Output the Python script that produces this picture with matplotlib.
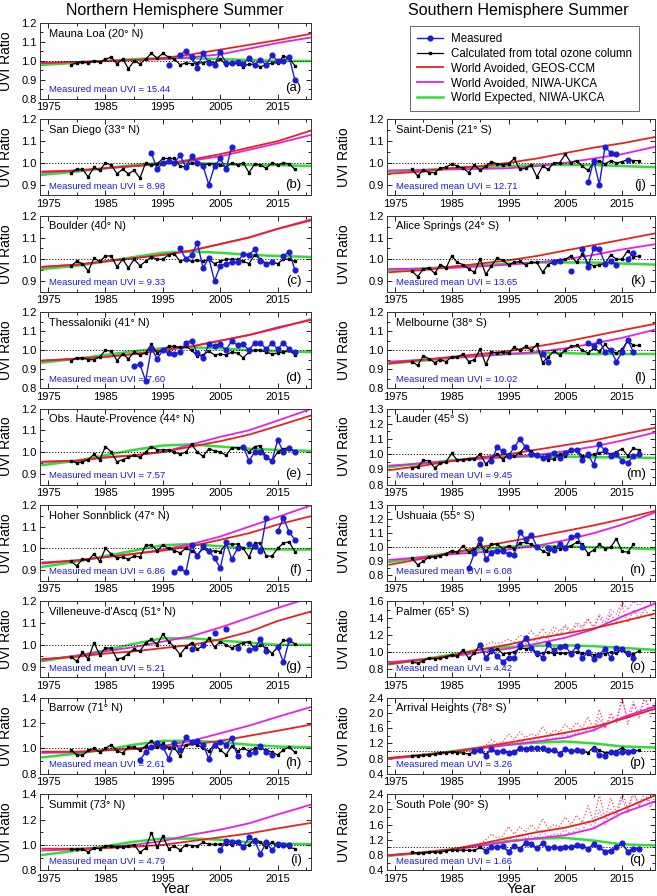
import numpy as np
import matplotlib
matplotlib.use('Agg')
import matplotlib.pyplot as plt
from matplotlib.lines import Line2D
from matplotlib.ticker import MultipleLocator, FormatStrFormatter

plt.rcParams['font.family'] = ['Liberation Sans', 'DejaVu Sans']

# ---------------- data ----------------
knot_years = [1974, 1980, 1985, 1990, 1995, 2000, 2005, 2010, 2015, 2021]

panel_ids = list('abcdefghijklmnopq')
station_names = ['Mauna Loa (20° N)', 'San Diego (33° N)', 'Boulder (40° N)', 'Thessaloniki (41° N)',
                 'Obs. Haute-Provence (44° N)', 'Hoher Sonnblick (47° N)', "Villeneuve-d'Ascq (51° N)",
                 'Barrow (71° N)', 'Summit (73° N)',
                 'Saint-Denis (21° S)', 'Alice Springs (24° S)', 'Melbourne (38° S)', 'Lauder (45° S)',
                 'Ushuaia (55° S)', 'Palmer (65° S)', 'Arrival Heights (78° S)', 'South Pole (90° S)']
mean_uvi = ['15.44', '8.98', '9.33', '7.60', '7.57', '6.86', '5.21', '2.61', '4.79',
            '12.71', '13.65', '10.02', '9.45', '6.08', '4.42', '3.26', '1.66']
y_limits = [(0.8, 1.2), (0.85, 1.2), (0.85, 1.2), (0.8, 1.2), (0.85, 1.2), (0.85, 1.2), (0.85, 1.2),
            (0.8, 1.4), (0.8, 1.4),
            (0.85, 1.2), (0.85, 1.2), (0.8, 1.2), (0.8, 1.3), (0.76, 1.3), (0.7, 1.6), (0.4, 2.4), (0.4, 2.4)]
y_steps = [0.1, 0.1, 0.1, 0.1, 0.1, 0.1, 0.1, 0.2, 0.2, 0.1, 0.1, 0.1, 0.1, 0.1, 0.2, 0.4, 0.4]

# World Avoided, GEOS-CCM
red_curves = [
    [0.99, 0.995, 1.0, 1.005, 1.015, 1.035, 1.06, 1.085, 1.11, 1.145],
    [0.96, 0.965, 0.975, 0.985, 0.995, 1.015, 1.04, 1.07, 1.10, 1.15],
    [0.965, 0.975, 0.99, 1.005, 1.02, 1.04, 1.07, 1.10, 1.14, 1.18],
    [0.945, 0.955, 0.965, 0.98, 1.0, 1.02, 1.05, 1.08, 1.12, 1.16],
    [0.955, 0.96, 0.975, 0.985, 1.0, 1.025, 1.05, 1.08, 1.12, 1.17],
    [0.935, 0.945, 0.96, 0.975, 0.99, 1.01, 1.04, 1.07, 1.11, 1.15],
    [0.935, 0.945, 0.96, 0.97, 0.985, 1.0, 1.025, 1.06, 1.11, 1.155],
    [0.975, 0.975, 0.985, 0.995, 1.01, 1.03, 1.06, 1.10, 1.14, 1.19],
    [0.97, 0.97, 0.975, 0.985, 1.0, 1.03, 1.06, 1.09, 1.13, 1.175],
    [0.95, 0.96, 0.975, 0.985, 1.0, 1.02, 1.045, 1.07, 1.09, 1.12],
    [0.94, 0.95, 0.965, 0.98, 0.995, 1.015, 1.04, 1.065, 1.09, 1.12],
    [0.93, 0.95, 0.965, 0.98, 0.995, 1.02, 1.045, 1.075, 1.105, 1.14],
    [0.895, 0.925, 0.955, 0.98, 1.0, 1.03, 1.06, 1.09, 1.13, 1.175],
    [0.875, 0.92, 0.96, 1.0, 1.04, 1.075, 1.115, 1.155, 1.2, 1.26],
    [0.86, 0.91, 0.96, 1.03, 1.09, 1.16, 1.22, 1.28, 1.36, 1.46],
    [0.82, 0.9, 0.98, 1.09, 1.22, 1.35, 1.48, 1.63, 1.84, 2.12],
    [0.8, 0.87, 0.95, 1.09, 1.25, 1.4, 1.52, 1.7, 2.0, 2.38],
]
# World Avoided, NIWA-UKCA
magenta_curves = [
    [0.99, 0.995, 1.0, 1.005, 1.01, 1.02, 1.035, 1.065, 1.095, 1.125],
    [0.955, 0.965, 0.975, 0.985, 0.995, 1.01, 1.03, 1.06, 1.09, 1.13],
    [0.965, 0.975, 0.99, 1.005, 1.02, 1.04, 1.07, 1.10, 1.14, 1.185],
    [0.945, 0.955, 0.965, 0.98, 1.0, 1.02, 1.05, 1.08, 1.115, 1.165],
    [0.955, 0.96, 0.975, 0.985, 1.0, 1.035, 1.07, 1.10, 1.145, 1.2],
    [0.93, 0.945, 0.96, 0.975, 0.995, 1.02, 1.055, 1.10, 1.145, 1.2],
    [0.93, 0.95, 0.97, 0.99, 1.015, 1.04, 1.08, 1.125, 1.17, 1.22],
    [0.965, 0.97, 0.985, 1.0, 1.02, 1.06, 1.12, 1.18, 1.25, 1.33],
    [0.955, 0.965, 0.98, 1.0, 1.03, 1.08, 1.12, 1.17, 1.24, 1.32],
    [0.965, 0.967, 0.97, 0.972, 0.975, 0.985, 1.0, 1.02, 1.04, 1.075],
    [0.955, 0.957, 0.96, 0.967, 0.975, 0.985, 1.0, 1.02, 1.045, 1.07],
    [0.94, 0.95, 0.96, 0.97, 0.98, 0.99, 1.01, 1.035, 1.065, 1.11],
    [0.925, 0.94, 0.955, 0.97, 0.98, 0.995, 1.02, 1.05, 1.09, 1.145],
    [0.91, 0.93, 0.95, 0.965, 0.985, 1.01, 1.05, 1.1, 1.16, 1.25],
    [0.88, 0.915, 0.95, 0.995, 1.04, 1.1, 1.17, 1.27, 1.42, 1.58],
    [0.8, 0.88, 0.97, 1.07, 1.16, 1.25, 1.35, 1.55, 1.88, 2.18],
    [0.79, 0.86, 0.94, 1.04, 1.15, 1.24, 1.32, 1.5, 1.9, 2.22],
]
# World Expected, NIWA-UKCA
green_curves = [
    [0.98, 0.99, 1.0, 1.01, 1.015, 1.015, 1.01, 1.005, 1.0, 1.0],
    [0.945, 0.96, 0.975, 0.99, 1.0, 1.0, 0.995, 0.99, 0.99, 0.985],
    [0.955, 0.97, 0.99, 1.01, 1.03, 1.035, 1.03, 1.02, 1.015, 1.01],
    [0.935, 0.955, 0.975, 0.995, 1.01, 1.015, 1.01, 1.0, 0.995, 0.99],
    [0.94, 0.96, 0.985, 1.01, 1.03, 1.035, 1.025, 1.015, 1.01, 1.005],
    [0.915, 0.94, 0.965, 0.99, 1.015, 1.02, 1.01, 1.0, 0.995, 0.995],
    [0.925, 0.95, 0.975, 1.005, 1.03, 1.03, 1.02, 1.01, 1.0, 1.0],
    [0.93, 0.96, 0.99, 1.03, 1.06, 1.06, 1.05, 1.03, 1.015, 1.01],
    [0.92, 0.955, 0.99, 1.025, 1.05, 1.05, 1.04, 1.02, 1.01, 1.005],
    [0.96, 0.967, 0.975, 0.98, 0.985, 0.99, 0.99, 0.99, 0.985, 0.98],
    [0.95, 0.957, 0.965, 0.972, 0.98, 0.985, 0.985, 0.985, 0.98, 0.975],
    [0.93, 0.945, 0.96, 0.97, 0.98, 0.985, 0.985, 0.98, 0.98, 0.98],
    [0.915, 0.94, 0.96, 0.975, 0.985, 0.985, 0.985, 0.98, 0.98, 0.975],
    [0.895, 0.93, 0.96, 0.985, 1.005, 1.01, 1.005, 1.0, 0.995, 0.985],
    [0.855, 0.915, 0.97, 1.03, 1.06, 1.075, 1.08, 1.07, 1.05, 1.025],
    [0.8, 0.9, 0.99, 1.09, 1.17, 1.22, 1.25, 1.2, 1.12, 1.09],
    [0.78, 0.86, 0.95, 1.06, 1.17, 1.23, 1.25, 1.18, 1.08, 1.05],
]

# Calculated from total ozone column (left column from 1979, right column from 1978)
calc_start = [1979] * 9 + [1978] * 8
calc_values = [
    [0.98, 0.99, 0.995, 0.99, 1.0, 0.995, 1.01, 1.02, 0.985, 1.01, 0.96, 1.0, 0.985, 1.01, 1.04, 1.015, 1.04, 1.02, 1.01, 0.98,
     0.99, 0.985, 0.99, 0.99, 1.0, 0.99, 1.01, 0.98, 0.99, 0.985, 0.97, 0.985, 0.98, 0.97, 0.98, 0.99, 0.99, 1.025, 1.015, 0.975],
    [0.955, 0.97, 0.97, 0.935, 0.98, 0.965, 1.0, 0.99, 0.95, 0.97, 0.95, 0.965, 0.93, 1.0, 0.99, 0.995, 1.02, 1.02, 1.02, 0.985,
     0.98, 1.0, 0.995, 0.99, 0.995, 0.995, 0.99, 0.98, 1.0, 0.99, 1.0, 0.955, 0.995, 0.99, 0.975, 1.0, 0.99, 1.0, 0.995, 0.97],
    [0.97, 0.99, 0.98, 0.945, 1.005, 0.99, 1.015, 1.015, 0.965, 1.0, 0.96, 1.0, 0.97, 0.99, 1.01, 1.0, 1.0, 1.02, 1.025, 0.99,
     1.0, 0.99, 0.995, 0.99, 1.0, 0.98, 0.99, 1.0, 1.0, 1.0, 0.99, 0.98, 1.02, 1.0, 0.98, 0.985, 0.98, 1.0, 1.0, 0.99],
    [0.945, 0.96, 0.96, 0.95, 0.95, 0.965, 1.0, 0.995, 0.945, 0.98, 0.955, 0.99, 0.975, 0.985, 1.03, 0.985, 1.0, 1.02, 1.02, 1.015,
     1.02, 1.0, 0.97, 0.975, 0.995, 0.975, 0.98, 0.975, 0.99, 0.985, 0.96, 0.99, 1.0, 1.0, 0.99, 0.98, 0.985, 0.99, 1.0, 0.975],
    [0.96, 0.95, 0.955, 0.965, 0.99, 0.965, 1.025, 1.0, 0.955, 0.965, 0.975, 0.985, 0.975, 1.0, 1.025, 1.01, 1.01, 1.01, 1.0, 0.99,
     1.0, 1.035, 1.0, 0.98, 1.015, 1.005, 1.0, 0.985, 1.02, 1.02, 1.02, 1.0, 1.025, 1.03, 0.975, 0.96, 1.0, 1.015, 1.02, 1.0],
    [0.94, 0.92, 0.95, 0.945, 0.975, 0.94, 1.0, 0.975, 0.955, 0.96, 0.95, 0.965, 0.96, 1.015, 1.015, 0.99, 1.015, 1.0, 0.99, 0.98,
     1.0, 0.99, 0.97, 1.0, 0.985, 0.99, 0.985, 1.02, 1.02, 1.02, 1.0, 0.96, 1.025, 1.025, 0.965, 0.965, 1.0, 1.025, 1.03, 0.985],
    [0.945, 0.925, 0.965, 0.935, 1.01, 0.955, 0.985, 0.985, 0.935, 0.94, 0.96, 0.98, 0.97, 1.01, 1.025, 1.0, 1.05, 1.015, 0.99, 0.955,
     0.99, 1.01, 0.98, 0.995, 1.03, 0.99, 1.015, 1.0, 0.985, 1.0, 1.01, 1.015, 0.98, 1.0, 0.985, 0.96, 0.99, 1.02, 1.02, 1.005],
    [0.99, 0.95, 0.945, 0.985, 1.0, 0.97, 1.0, 1.03, 0.98, 0.965, 1.01, 1.01, 0.985, 1.02, 1.06, 1.01, 1.04, 1.0, 1.005, 0.94,
     1.03, 1.04, 1.03, 1.0, 0.98, 1.03, 0.99, 0.95, 1.02, 0.98, 1.0, 0.98, 1.0, 1.0, 0.99, 0.97, 0.95, 0.99, 1.01, 0.97],
    [0.965, 0.965, 0.965, 0.945, 0.975, 0.97, 0.99, 0.99, 0.98, 0.985, 0.99, 1.0, 0.94, 0.975, 1.095, 0.98, 1.07, 0.97, 0.99, 0.96,
     1.0, 0.995, 0.99, 1.02, 1.005, 1.005, 1.005, 1.01, 1.0, 1.02, 0.99, 1.0, 1.05, 1.02, 0.98, 1.02, 0.99, 1.0, 0.98, 0.97],
    [0.97, 0.94, 0.965, 0.955, 0.955, 0.975, 0.98, 0.995, 0.985, 0.975, 0.955, 0.99, 0.965, 0.985, 1.005, 0.995, 0.99, 0.995, 1.02, 0.97,
     0.975, 0.99, 0.935, 0.985, 0.97, 1.0, 1.0, 1.04, 1.0, 1.01, 0.985, 0.965, 1.0, 1.01, 0.995, 1.01, 1.0, 1.005, 1.015, 1.01, 1.01],
    [0.945, 0.92, 0.955, 0.96, 0.935, 0.975, 0.96, 1.015, 0.985, 0.975, 0.955, 0.94, 1.0, 0.93, 0.97, 1.005, 0.995, 0.975, 0.985, 0.99,
     0.975, 0.985, 0.985, 0.94, 0.975, 0.99, 0.995, 1.0, 1.015, 0.985, 1.025, 0.98, 0.97, 0.975, 0.98, 1.02, 1.0, 1.0, 1.04, 1.01, 1.015],
    [0.94, 0.92, 0.97, 0.955, 0.935, 0.95, 0.94, 0.965, 0.965, 0.98, 0.94, 0.95, 1.005, 0.925, 0.99, 0.985, 0.99, 0.985, 1.015, 1.0,
     1.02, 1.0, 1.03, 0.935, 0.965, 0.995, 0.975, 1.0, 1.02, 1.025, 1.0, 0.985, 1.01, 0.995, 1.03, 0.995, 0.985, 1.005, 1.05, 1.025, 1.025],
    [0.91, 0.915, 0.96, 0.955, 0.91, 0.94, 0.95, 1.005, 0.96, 0.965, 0.97, 0.97, 1.0, 0.935, 0.975, 1.0, 0.965, 1.0, 0.985, 1.01,
     1.05, 1.02, 0.99, 0.98, 0.965, 0.97, 1.0, 0.99, 1.025, 1.025, 0.99, 0.985, 1.0, 1.01, 1.015, 1.0, 1.015, 1.035, 0.99, 1.04, 1.025],
    [0.92, 0.875, 0.9, 0.93, 0.93, 0.94, 0.955, 0.975, 0.965, 1.01, 0.965, 0.985, 1.02, 0.97, 1.02, 1.025, 0.985, 1.01, 0.99, 1.03,
     1.035, 1.02, 1.0, 0.975, 0.955, 1.0, 0.99, 1.0, 1.01, 1.035, 1.02, 0.955, 0.98, 1.02, 0.99, 1.0, 1.06, 0.97, 0.965, 1.02, None],
    [0.88, 0.87, 0.895, 0.93, 0.92, 0.925, 0.945, 0.965, 0.95, 1.03, 0.925, 0.985, 1.1, 0.93, 1.0, 1.04, 0.98, 0.99, 1.0, 1.05,
     1.04, 1.05, 0.97, 0.99, 1.0, 0.98, 0.99, 0.985, 1.0, 1.0, 0.99, 0.98, 0.97, 0.98, 0.98, 1.0, 0.985, 1.04, 0.96, 0.98, 1.01],
    [0.88, 0.88, 0.89, 0.9, 0.92, 0.96, 0.95, 0.98, 0.95, 0.95, 0.92, 0.98, 1.0, 0.92, 1.03, 0.98, 1.0, 0.97, 0.97, 1.05,
     1.04, 1.05, 1.06, 1.05, 1.02, 1.0, 0.95, 1.03, 1.0, 1.0, 0.98, 0.96, 1.1, 1.02, 0.95, 0.97, 1.0, 1.08, 1.0, 1.0, 1.02],
    [0.88, 0.84, 0.86, 0.87, 0.88, 0.87, 0.91, 0.93, 0.92, 0.93, 0.92, 0.92, 1.0, 0.92, 1.0, 1.0, 1.02, 0.9, 1.03, 0.97,
     1.1, 1.08, 0.98, 1.1, 0.99, 1.01, 0.99, 1.0, 1.0, 1.05, 1.04, 0.97, 1.08, 0.99, 0.9, 0.92, 1.0, 1.1, 0.9, 0.96, 0.98],
]

# Measured (None = missing year)
meas_start = [1996, 1993, 1998, 1990, 2009, 1997, 2000, 1991, 2005,
              2009, 2003, 2001, 1990, 1988, 1990, 1989, 1991]
meas_values = [
    [0.98, None, 1.03, 1.055, 1.02, 0.965, 1.04, 0.99, 0.98, 1.045, 0.99, 0.99, 0.995, 0.985, 1.015, 0.98, 1.005, 0.98, 1.03, 1.0, 1.0, 1.02, 0.90],
    [1.045, 0.97, 1.0, 1.01, 1.0, 1.035, 0.98, 1.03, 1.0, 0.985, 0.90, 0.985, 1.02, 0.97, 1.075],
    [1.05, 1.0, 1.02, 1.075, 0.96, 1.005, 0.90, 0.97, 0.98, 0.985, 0.985, 1.025, 1.02, 1.045, 0.99, 0.98, 0.985, None, 1.015, 1.035, 0.95],
    [0.915, 0.925, 0.84, 1.01, 0.955, 1.0, 0.985, 0.98, 0.99, 1.04, 1.05, 0.985, 0.96, 1.03, 1.02, 1.03, 1.0, 1.05, 1.025, 1.03,
     1.0, 1.04, 1.04, 1.005, 1.04, 1.005, 1.04, 1.005, 0.99],
    [1.025, 0.96, 1.0, 1.0, 0.975, 0.96, 1.055, 1.0, 1.02, 1.0],
    [0.89, 0.91, 0.89, 1.015, 0.965, 1.01, 0.99, 0.955, 0.91, 1.03, 0.95, 1.0, None, 1.02, 1.01, 0.99, 1.14, None, 1.08, 1.14, 1.075, 1.04],
    [0.98, None, 1.0, None, 1.055, None, 1.075, None, 0.985, None, 0.975, 0.985, 1.025, 0.97, None, 0.99, 0.92, 1.02],
    [0.91, 0.97, 1.01, 1.04, 1.015, 0.92, 1.04, 0.99, 1.09, 1.05, 1.06, 1.03, 0.92, 1.03, 1.05, 1.03, 1.08, 0.94, None, 0.955,
     0.97, 1.02, 0.97, 0.95],
    [0.96, 1.03, 1.02, 1.02, 0.98, 1.06, 1.03, 0.93, 1.02, 0.96, 1.01, 1.0, 1.0],
    [0.91, 1.01, 0.90, 1.075, 1.045, 1.04, None, 1.015],
    [0.985, 0.99, None, 0.945, None, 1.045, 0.965, 1.05, 1.045, 0.98, 0.99, 0.975, None, 1.0, 1.03],
    [0.98, 0.94, None, None, None, None, None, None, 1.04, 1.02, 1.05, 0.99, 1.0, 0.94, 0.99, 1.055, 0.99],
    [0.935, None, 0.955, 1.045, 1.02, 0.99, 1.045, 1.1, 1.045, 1.0, 0.995, 0.975, 0.99, 1.005, 0.975, 1.005, 1.025, 1.025, 0.965,
     1.0, 0.93, 1.065, 1.025, 0.99, 1.0, 0.955, 0.945, 0.985, 1.0],
    [0.85, 0.96, 1.06, 0.915, 0.96, 0.97, 0.97, 0.95, 0.945, 1.105, 1.06, 1.09, 1.005, None, 0.995, 0.98, 1.02, 0.995, 1.07, 1.085, 1.0],
    [1.08, 0.93, 1.03, 0.95, 0.885, 0.935, 0.935, 1.08, 1.17, 1.05, 0.99, 0.935, 1.09, 1.02, 1.065, 1.07, 0.98, 1.07, 0.93, 1.0,
     0.92, 0.97, 1.04, 0.93, 1.05, 1.04, 0.99, 0.93],
    [1.0, 1.02, 0.88, 1.05, 0.97, 1.0, 0.95, 0.98, 1.08, 1.06, 1.07, 1.07, 1.08, 1.02, 1.03, 0.92, 1.05, 1.0, 1.02, 1.0,
     None, 1.05, 0.9, 0.88, 0.97, 0.96, 0.97, 0.98, 0.99],
    [0.9, 1.0, 1.0, 1.03, 0.88, 1.05, 0.97, 1.12, 1.1, 0.98, 1.12, 0.98, 1.02, 0.98, 1.02, 1.02, 1.06, 1.05, 0.96, 1.1,
     1.0, 0.88, 0.9, 1.0, 1.12, 0.88, 0.96, 0.97],
]

# annual model values (dotted) for the southern polar stations, 1990-2021
dotted_start = 1990
palmer_red_annual = [1.05, 1.08, 1.12, 1.1, 1.12, 1.15, 1.12, 1.2, 1.18, 1.25, 1.18, 1.28, 1.2, 1.3, 1.25, 1.32,
                     1.25, 1.35, 1.3, 1.4, 1.28, 1.42, 1.3, 1.45, 1.35, 1.55, 1.35, 1.5, 1.4, 1.5, 1.42, 1.48]
palmer_mag_annual = [1.0, 1.02, 1.05, 1.04, 1.06, 1.08, 1.05, 1.12, 1.1, 1.15, 1.12, 1.2, 1.15, 1.25, 1.2, 1.3,
                     1.22, 1.32, 1.28, 1.38, 1.3, 1.45, 1.35, 1.5, 1.45, 1.6, 1.5, 1.6, 1.55, 1.62, 1.58, 1.6]
arrival_red_annual = [1.1, 1.15, 1.3, 1.2, 1.25, 1.45, 1.3, 1.5, 1.35, 1.45, 1.4, 1.65, 1.4, 1.55, 1.5, 1.7,
                      1.55, 1.75, 1.6, 1.9, 1.55, 2.1, 1.6, 2.0, 1.75, 2.45, 1.7, 2.25, 1.85, 2.45, 1.9, 2.3]
arrival_mag_annual = [1.05, 1.1, 1.2, 1.1, 1.2, 1.25, 1.15, 1.3, 1.2, 1.3, 1.25, 1.4, 1.3, 1.35, 1.35, 1.45,
                      1.35, 1.5, 1.45, 1.65, 1.5, 1.85, 1.6, 1.9, 1.8, 2.3, 1.9, 2.3, 2.0, 2.4, 2.1, 2.3]
pole_red_annual = [1.1, 1.2, 1.35, 1.25, 1.3, 1.55, 1.35, 1.55, 1.4, 1.6, 1.45, 1.75, 1.5, 1.6, 1.55, 1.8,
                   1.6, 1.85, 1.65, 2.1, 1.65, 2.4, 1.75, 2.3, 1.9, 2.45, 2.0, 2.5, 2.1, 2.45, 2.05, 2.4]
pole_mag_annual = [1.0, 1.05, 1.15, 1.1, 1.15, 1.25, 1.2, 1.3, 1.25, 1.3, 1.25, 1.4, 1.3, 1.35, 1.35, 1.45,
                   1.35, 1.5, 1.45, 1.7, 1.5, 2.0, 1.6, 2.0, 1.8, 2.3, 1.9, 2.4, 2.1, 2.3, 2.2, 2.2]
dotted_series = {14: (palmer_red_annual, palmer_mag_annual),
                 15: (arrival_red_annual, arrival_mag_annual),
                 16: (pole_red_annual, pole_mag_annual)}

# ---------------- figure ----------------
c_red = '#e8221e'
c_mag = '#e620e6'
c_grn = '#33dd33'
c_blu = '#1b1bd8'

W, H = 657, 896
fig = plt.figure(figsize=(W / 100, H / 100), dpi=100)

axes_px = []
for k in range(9):
    axes_px.append((40, 23 + 96.4 * k, 271, 76))
for k in range(1, 9):
    axes_px.append((387, 23 + 96.4 * k, 268, 76))

for i in range(17):
    x0, top, w, h = axes_px[i]
    ax = fig.add_axes([x0 / W, 1 - (top + h) / H, w / W, h / H])

    if i in dotted_series:
        r_ann, m_ann = dotted_series[i]
        yrs = np.arange(dotted_start, dotted_start + len(r_ann))
        ax.plot(yrs, m_ann, ':', color=c_mag, lw=0.9, alpha=0.8)
        ax.plot(yrs, r_ann, ':', color=c_red, lw=0.9, alpha=0.8)

    ax.plot(knot_years, green_curves[i], color=c_grn, lw=1.8)
    ax.plot(knot_years, magenta_curves[i], color=c_mag, lw=1.3)
    ax.plot(knot_years, red_curves[i], color=c_red, lw=1.3)
    ax.axhline(1.0, color='black', ls=(0, (1.5, 2)), lw=0.6)

    cv = np.array(calc_values[i], dtype=float)
    ax.plot(np.arange(calc_start[i], calc_start[i] + len(cv)), cv, '-', color='black',
            marker='s', ms=2.0, lw=0.9)
    mv = np.array(meas_values[i], dtype=float)
    ax.plot(np.arange(meas_start[i], meas_start[i] + len(mv)), mv, '-', color=c_blu,
            marker='o', ms=3.4, lw=1.0)

    ax.set_xlim(1973.6, 2020.8)
    ax.set_ylim(*y_limits[i])
    ax.xaxis.set_minor_locator(MultipleLocator(5))
    ax.set_xticks([1975, 1985, 1995, 2005, 2015])
    step = y_steps[i]
    ax.yaxis.set_major_locator(MultipleLocator(step))
    ax.yaxis.set_minor_locator(MultipleLocator(step / 2))
    ax.yaxis.set_major_formatter(FormatStrFormatter('%.1f'))
    ax.tick_params(which='both', direction='in', top=True, right=True, labelsize=8, width=0.6, pad=2.5)
    ax.tick_params(which='major', length=3.5)
    ax.tick_params(which='minor', length=2)
    for s in ax.spines.values():
        s.set_linewidth(0.7)
        s.set_color('#333333')

    ax.set_ylabel('UVI Ratio', fontsize=10)
    if i < 9:
        ax.yaxis.set_label_coords(-0.098, 0.5)
    else:
        ax.yaxis.set_label_coords(-0.135, 0.5)

    ax.text(0.035, 0.86, station_names[i], transform=ax.transAxes, fontsize=8, va='center', ha='left')
    ax.text(0.035, 0.12, 'Measured mean UVI = ' + mean_uvi[i], transform=ax.transAxes,
            fontsize=6.8, color=c_blu, va='center', ha='left')
    ax.text(0.965, 0.14, '(' + panel_ids[i] + ')', transform=ax.transAxes, fontsize=9.5,
            va='center', ha='right')

    if i in (8, 16):
        ax.set_xlabel('Year', fontsize=10.5, labelpad=-1)

fig.text(175 / W, 1 - 11 / H, 'Northern Hemisphere Summer', ha='center', va='center', fontsize=11.5)
fig.text(518 / W, 1 - 11 / H, 'Southern Hemisphere Summer', ha='center', va='center', fontsize=11.5)

handles = [Line2D([], [], color=c_blu, marker='o', ms=3.4, lw=1.0),
           Line2D([], [], color='black', marker='s', ms=2.0, lw=0.9),
           Line2D([], [], color=c_red, lw=1.3),
           Line2D([], [], color=c_mag, lw=1.3),
           Line2D([], [], color=c_grn, lw=1.8)]
labels = ['Measured', 'Calculated from total ozone column', 'World Avoided, GEOS-CCM',
          'World Avoided, NIWA-UKCA', 'World Expected, NIWA-UKCA']
leg = fig.legend(handles, labels, loc='upper left', bbox_to_anchor=(404 / W, 1 - 20 / H),
                 fontsize=8.3, frameon=True, fancybox=False, edgecolor='#444444',
                 handlelength=2.3, labelspacing=0.25, borderpad=0.6, handletextpad=0.7)
leg.get_frame().set_linewidth(0.7)

fig.savefig('out.png', dpi=100)
